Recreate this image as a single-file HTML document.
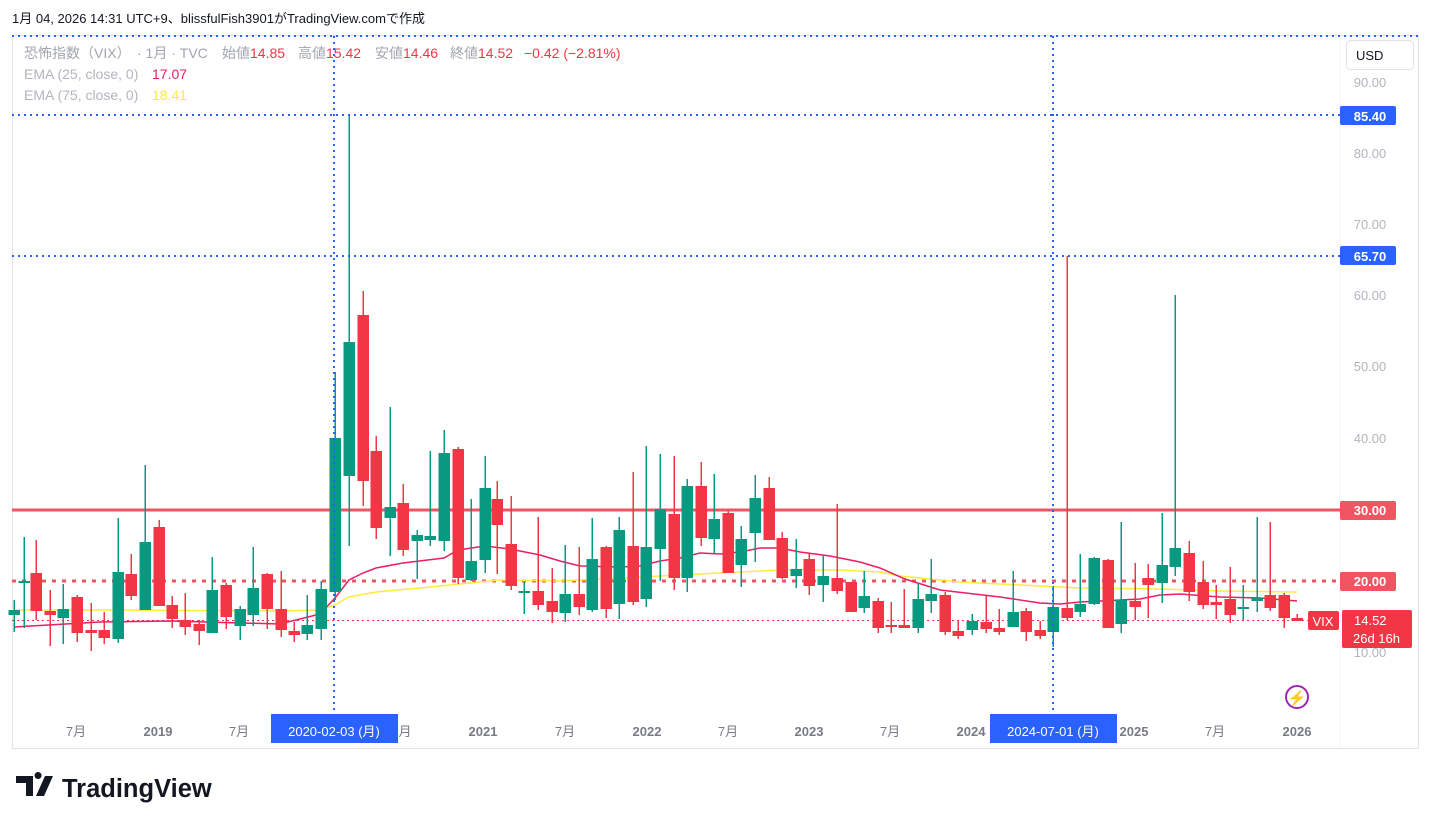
<!DOCTYPE html>
<html><head><meta charset="utf-8"><style>
body{margin:0;background:#fff;width:1431px;height:824px;overflow:hidden;font-family:"Liberation Sans","Noto Sans CJK JP",sans-serif}
svg{position:absolute;left:0;top:0}
text{font-family:"Liberation Sans","Noto Sans CJK JP",sans-serif}
</style></head><body>
<svg id="s" width="1431" height="824" xmlns="http://www.w3.org/2000/svg">
<text x="12" y="23" font-size="13" fill="#131722">1月 04, 2026 14:31 UTC+9、blissfulFish3901がTradingView.comで作成</text>
<rect x="12.5" y="35.5" width="1406" height="713" fill="none" stroke="#e0e3eb"/>
<line x1="1340" y1="35" x2="1340" y2="748" stroke="#f0f3fa"/>
<g id="g"></g>
<g font-size="14" fill="#a3a6af">
<text x="24" y="58">恐怖指数（VIX）</text>
<text x="137" y="58">· 1月 · TVC</text>
<text x="222" y="58">始値</text><text x="250" y="58" fill="#f23645">14.85</text>
<text x="298" y="58">高値</text><text x="326" y="58" fill="#f23645">15.42</text>
<text x="375" y="58">安値</text><text x="403" y="58" fill="#f23645">14.46</text>
<text x="450" y="58">終値</text><text x="478" y="58" fill="#f23645">14.52</text>
<text x="524" y="58" fill="#f23645">−0.42 (−2.81%)</text>
<text x="24" y="79" fill="#b2b5be">EMA (25, close, 0)</text><text x="152" y="79" fill="#e91e63">17.07</text>
<text x="24" y="100" fill="#b2b5be">EMA (75, close, 0)</text><text x="152" y="100" fill="#ffeb3b">18.41</text>
</g>
<rect x="1346.5" y="40.5" width="67" height="29" rx="4" fill="#fff" stroke="#e0e3eb"/>
<text x="1356" y="60" font-size="13" fill="#131722">USD</text>
<g font-size="13" fill="#b2b5be" text-anchor="middle">
<text x="1370" y="87">90.00</text><text x="1370" y="158">80.00</text><text x="1370" y="229">70.00</text>
<text x="1370" y="300">60.00</text><text x="1370" y="371">50.00</text><text x="1370" y="443">40.00</text>
<text x="1370" y="657">10.00</text>
</g>
<g font-size="13" font-weight="bold" fill="#fff" text-anchor="middle">
<rect x="1340" y="106" width="56" height="19" rx="2" fill="#2962ff"/><text x="1370" y="121">85.40</text>
<rect x="1340" y="246" width="56" height="19" rx="2" fill="#2962ff"/><text x="1370" y="261">65.70</text>
<rect x="1340" y="501" width="56" height="19" rx="2" fill="#f25562"/><text x="1370" y="515">30.00</text>
<rect x="1340" y="572" width="56" height="19" rx="2" fill="#f25562"/><text x="1370" y="586">20.00</text>
<rect x="1308" y="611" width="31" height="19" rx="2" fill="#f23645"/><text x="1323" y="626" font-weight="normal">VIX</text>
<rect x="1342" y="610" width="70" height="38" rx="2" fill="#f23645"/>
<text x="1354" y="625" font-weight="normal" text-anchor="start">14.52</text>
<text x="1353" y="643" font-weight="normal" text-anchor="start">26d 16h</text>
</g>
<circle cx="1297" cy="697" r="11" fill="none" stroke="#9c27b0" stroke-width="2"/>
<text x="1297" y="703" font-size="15" fill="#9c27b0" text-anchor="middle">⚡</text>
<g font-size="13" font-weight="bold" fill="#787b86" text-anchor="middle">
<text x="76" y="736" font-weight="normal">7月</text><text x="158" y="736">2019</text><text x="239" y="736" font-weight="normal">7月</text>
<text x="405" y="736" font-weight="normal">月</text><text x="483" y="736">2021</text><text x="565" y="736" font-weight="normal">7月</text>
<text x="647" y="736">2022</text><text x="728" y="736" font-weight="normal">7月</text><text x="809" y="736">2023</text>
<text x="890" y="736" font-weight="normal">7月</text><text x="971" y="736">2024</text><text x="1134" y="736">2025</text>
<text x="1215" y="736" font-weight="normal">7月</text><text x="1297" y="736">2026</text>
</g>
<rect x="271" y="714" width="127" height="29" fill="#2962ff"/>
<text x="334" y="736" font-size="13" fill="#fff" text-anchor="middle">2020-02-03 (月)</text>
<rect x="990" y="714" width="127" height="29" fill="#2962ff"/>
<text x="1053" y="736" font-size="13" fill="#fff" text-anchor="middle">2024-07-01 (月)</text>
<g transform="translate(16,775)" fill="#131722">
<path d="M0 1h17v20h-7V8H0z M22 4a3.5 3.5 0 1 1 0.1 0z M29 1h8l-9 20h-8z"/>
<text x="46" y="22" font-size="25.5" font-weight="bold" font-family="Liberation Sans,sans-serif">TradingView</text>
</g>
</svg>
<script>
var C=[
[14,'g',615,610,600,632],[24,'g',582,581,537,628],[36,'r',573,611,540,620],[50,'r',611,615,590,646],[63,'g',618,609,584,644],
[77,'r',597,633,595,642],[91,'r',630,633,603,651],[104,'r',630,638,612,644],[118,'g',639,572,518,643],[131,'r',574,596,554,600],
[145,'g',610,542,465,610],[159,'r',527,606,520,606],[172,'r',605,619,596,628],[185,'r',620,627,593,635],[199,'r',624,631,620,645],
[212,'g',633,590,557,633],[226,'r',585,617,583,629],[240,'g',626,609,606,640],[253,'g',615,588,547,626],[267,'r',574,609,573,629],
[281,'r',609,630,571,637],[294,'r',631,635,622,642],[307,'g',634,625,595,640],[321,'g',629,589,581,640],[335,'g',592,438,372,600],
[349,'g',476,342,115,546],[363,'r',315,481,291,506],[376,'r',451,528,436,539],[390,'g',518,507,407,556],[403,'r',503,550,484,556],
[417,'g',541,535,530,579],[430,'g',540,536,451,546],[444,'g',541,453,430,551],[458,'r',449,578,447,584],[471,'g',580,561,499,581],
[485,'g',560,488,456,573],[497,'r',499,525,481,574],[511,'r',544,586,496,590],[524,'g',592,591,582,614],[538,'r',591,605,517,610],
[552,'r',601,612,568,623],[565,'g',613,594,545,622],[579,'r',594,607,547,615],[592,'g',610,559,518,612],[606,'r',547,609,546,618],
[619,'g',604,530,517,619],[633,'r',546,602,472,605],[646,'g',599,547,446,607],[660,'g',549,509,454,581],[674,'r',514,578,456,590],
[687,'g',578,486,479,592],[701,'r',486,538,462,546],[714,'g',539,519,474,553],[728,'r',513,573,511,573],[741,'g',565,539,526,587],
[755,'g',533,498,475,562],[769,'r',488,540,477,540],[782,'r',538,578,532,579],[796,'g',576,569,539,588],[809,'r',559,586,554,595],
[823,'g',585,576,555,602],[837,'r',578,591,504,594],[851,'r',582,612,582,612],[864,'g',608,596,571,613],[878,'r',601,628,598,633],
[891,'r',625,627,602,633],[904,'r',625,628,589,628],[918,'g',628,599,583,633],[931,'g',601,594,559,613],[945,'r',595,632,592,635],
[958,'r',631,636,620,639],[972,'g',630,621,614,635],[986,'r',622,629,596,633],[999,'r',628,632,609,635],[1013,'g',627,612,571,627],
[1026,'r',611,632,608,641],[1040,'r',630,636,621,639],[1053,'g',632,607,586,647],[1067,'r',608,618,256,620],[1080,'g',612,604,554,617],
[1094,'g',604,558,557,605],[1108,'r',560,628,559,628],[1121,'g',624,600,522,633],[1135,'r',601,607,563,620],[1148,'r',578,585,564,618],
[1162,'g',583,565,513,603],[1175,'g',567,548,295,576],[1189,'r',553,592,541,601],[1203,'r',582,605,561,609],[1216,'r',602,605,585,619],
[1230,'r',599,615,567,623],[1243,'g',608,607,585,620],[1257,'g',601,598,517,612],[1270,'r',595,608,522,611],[1284,'r',595,618,593,628],
[1297,'r',618,621,614,621]];
var e25=[[14,627],[100,622],[170,621],[280,624],[320,614],[335,598],[349,580],[363,573],[376,568],[403,563],[444,558],[458,550],[485,546],[510,549],[540,555],[560,561],[580,566],[620,567],[640,566],[660,561],[680,558],[700,553],[720,554],[740,552],[760,548],[780,548],[800,552],[830,556],[860,562],[880,568],[905,579],[940,590],[1000,597],[1040,603],[1060,604],[1080,602],[1100,601],[1140,599],[1160,595],[1180,594],[1220,597],[1260,598],[1297,601]];
var e75=[[14,610],[100,610],[280,611],[321,610],[335,605],[349,597],[376,592],[420,588],[460,584],[500,580],[560,581],[620,578],[680,575],[740,572],[780,570],[840,570],[880,572],[900,576],[960,582],[1040,586],[1080,588],[1160,589],[1220,591],[1297,592]];
var h='';
h+='<line x1="12" y1="36" x2="1418" y2="36" stroke="#2962ff" stroke-width="2" stroke-dasharray="2 4"/>';
h+='<line x1="12" y1="510" x2="1340" y2="510" stroke="#f25562" stroke-width="3"/>';
h+='<line x1="12" y1="581" x2="1340" y2="581" stroke="#f25562" stroke-width="3" stroke-dasharray="4 6"/>';
h+='<line x1="12" y1="620.5" x2="1308" y2="620.5" stroke="#f23645" stroke-width="1" stroke-dasharray="2 3"/>';
h+='<polyline fill="none" stroke="#ffeb3b" stroke-width="1.5" points="'+e75.join(' ')+'"/>';
h+='<polyline fill="none" stroke="#e91e63" stroke-width="1.5" points="'+e25.join(' ')+'"/>';
C.forEach(function(c){var col=c[1]=='g'?'#089981':'#f23645';var t=Math.min(c[2],c[3]),b=Math.max(c[2],c[3]);
h+='<rect x="'+(c[0]-0.5)+'" y="'+c[4]+'" width="1.5" height="'+(c[5]-c[4])+'" fill="'+col+'"/>';
h+='<rect x="'+(c[0]-5.5)+'" y="'+t+'" width="11.5" height="'+Math.max(2,b-t)+'" fill="'+col+'"/>';});
h+='<line x1="334" y1="36" x2="334" y2="714" stroke="#2962ff" stroke-width="2" stroke-dasharray="2 4"/>';
h+='<line x1="1053" y1="36" x2="1053" y2="714" stroke="#2962ff" stroke-width="2" stroke-dasharray="2 4"/>';
h+='<line x1="12" y1="115" x2="1340" y2="115" stroke="#2962ff" stroke-width="2" stroke-dasharray="2 4"/>';
h+='<line x1="12" y1="256" x2="1340" y2="256" stroke="#2962ff" stroke-width="2" stroke-dasharray="2 4"/>';
document.getElementById('g').innerHTML=h;
</script>
</body></html>
